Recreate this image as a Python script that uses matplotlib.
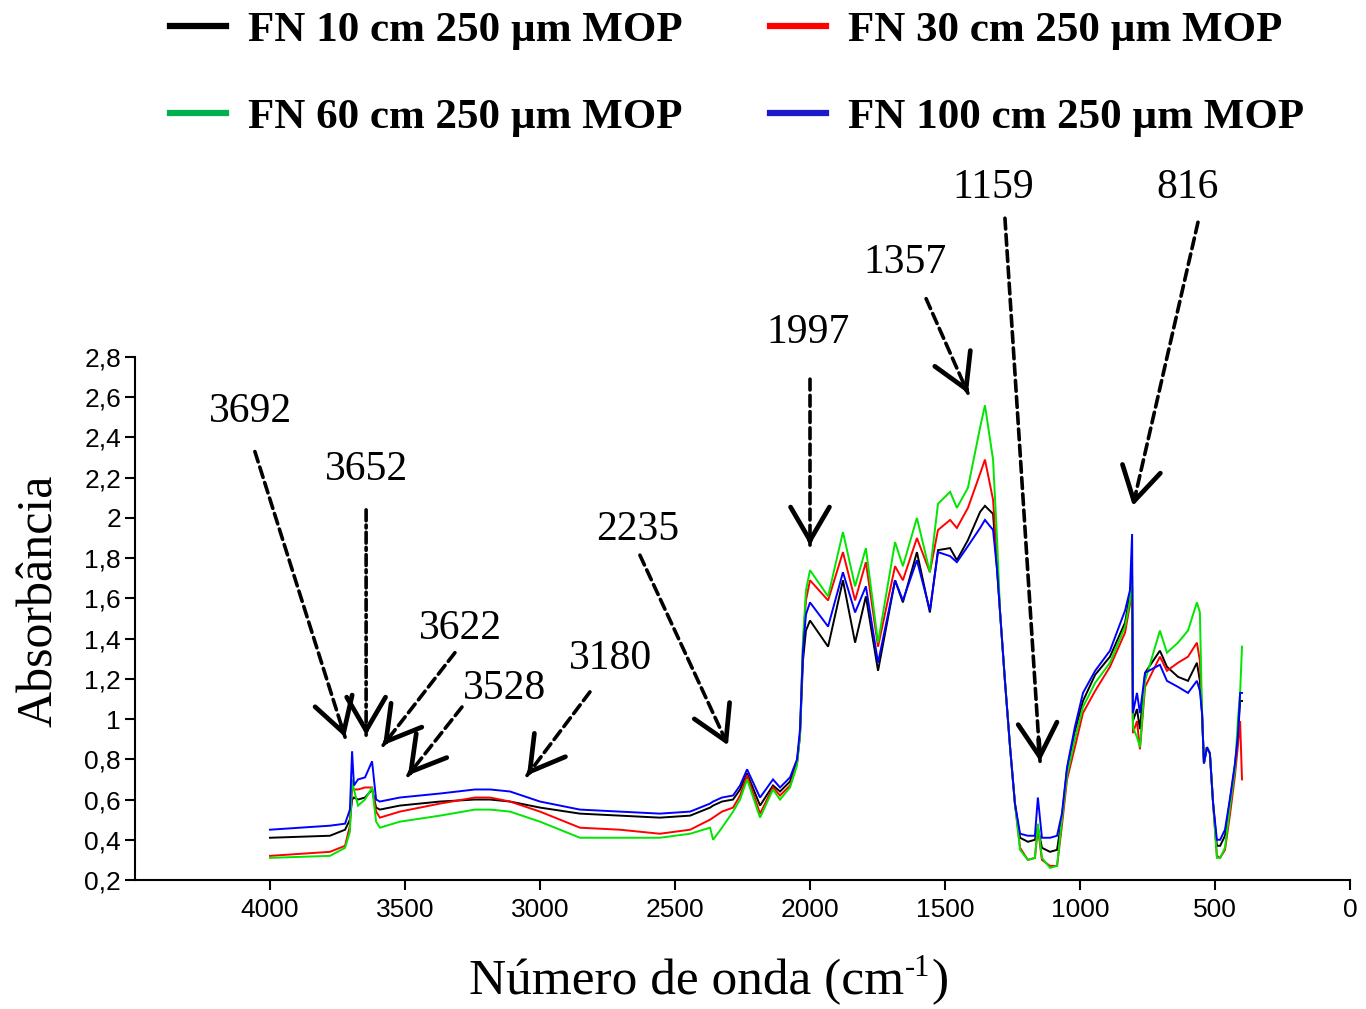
import matplotlib
matplotlib.use("Agg")
import matplotlib.pyplot as plt
from matplotlib.lines import Line2D
from matplotlib.ticker import FuncFormatter, FixedLocator, MultipleLocator

# ---------------- data ----------------
wavenumber = [4000, 3778, 3722, 3704, 3696, 3689, 3674, 3648, 3622, 3607, 3593, 3519, 3370, 3241,
              3185, 3111, 3000, 2852, 2704, 2556, 2444, 2370, 2359, 2326, 2285, 2259, 2233, 2185,
              2137, 2111, 2074, 2048, 2037, 2026, 2015, 2000, 1933, 1878, 1833, 1793, 1748, 1685,
              1656, 1604, 1556, 1526, 1481, 1456, 1415, 1370, 1352, 1322, 1307, 1296, 1278, 1259,
              1241, 1222, 1193, 1167, 1156, 1141, 1111, 1085, 1067, 1048, 1019, 989, 944, 889,
              833, 815, 807, 804, 789, 778, 759, 704, 678, 637, 600, 567, 556, 548, 541, 530,
              519, 507, 493, 481, 463, 444, 426, 415, 407, 400]

fn10 = [0.41, 0.42, 0.45, 0.50, 0.60, 0.61, 0.60, 0.61, 0.65, 0.56, 0.55, 0.57, 0.59, 0.60,
        0.60, 0.59, 0.56, 0.53, 0.52, 0.51, 0.52, 0.56, 0.57, 0.59, 0.60, 0.65, 0.73, 0.57,
        0.67, 0.64, 0.69, 0.79, 0.92, 1.29, 1.44, 1.49, 1.36, 1.69, 1.38, 1.61, 1.24, 1.69,
        1.58, 1.83, 1.53, 1.84, 1.85, 1.79, 1.89, 2.03, 2.06, 2.02, 1.74, 1.53, 1.19, 0.86,
        0.58, 0.41, 0.39, 0.40, 0.46, 0.36, 0.34, 0.35, 0.51, 0.75, 0.94, 1.09, 1.22, 1.31,
        1.48, 1.62, 1.71, 0.99, 1.05, 0.95, 1.23, 1.34, 1.26, 1.21, 1.19, 1.28, 1.19, 1.03,
        0.78, 0.86, 0.83, 0.58, 0.37, 0.37, 0.42, 0.60, 0.77, 0.91, 1.09, 1.09]

fn30 = [0.32, 0.34, 0.37, 0.47, 0.65, 0.65, 0.65, 0.66, 0.66, 0.54, 0.51, 0.54, 0.58, 0.61,
        0.61, 0.59, 0.54, 0.46, 0.45, 0.43, 0.45, 0.50, 0.51, 0.54, 0.56, 0.62, 0.72, 0.53,
        0.66, 0.62, 0.67, 0.78, 0.92, 1.37, 1.59, 1.69, 1.59, 1.83, 1.59, 1.78, 1.36, 1.76,
        1.69, 1.90, 1.73, 1.94, 1.99, 1.95, 2.05, 2.22, 2.29, 2.09, 1.79, 1.53, 1.19, 0.86,
        0.58, 0.36, 0.30, 0.31, 0.46, 0.30, 0.27, 0.27, 0.47, 0.70, 0.86, 1.03, 1.14, 1.26,
        1.43, 1.57, 1.66, 0.93, 0.99, 0.85, 1.16, 1.31, 1.24, 1.28, 1.31, 1.38, 1.29, 1.03,
        0.78, 0.86, 0.83, 0.58, 0.32, 0.31, 0.35, 0.53, 0.72, 0.87, 0.99, 0.70]

fn60 = [0.31, 0.32, 0.36, 0.44, 0.70, 0.65, 0.57, 0.60, 0.66, 0.49, 0.46, 0.49, 0.52, 0.55,
        0.55, 0.54, 0.49, 0.41, 0.41, 0.41, 0.43, 0.46, 0.40, 0.46, 0.54, 0.60, 0.70, 0.51,
        0.65, 0.60, 0.66, 0.77, 0.92, 1.39, 1.64, 1.74, 1.61, 1.93, 1.66, 1.85, 1.38, 1.88,
        1.76, 2.00, 1.73, 2.07, 2.13, 2.05, 2.15, 2.45, 2.56, 2.29, 1.89, 1.53, 1.19, 0.86,
        0.58, 0.35, 0.30, 0.31, 0.48, 0.31, 0.26, 0.27, 0.50, 0.72, 0.90, 1.06, 1.18, 1.28,
        1.46, 1.59, 1.74, 0.96, 0.91, 0.86, 1.19, 1.44, 1.33, 1.38, 1.44, 1.58, 1.53, 1.03,
        0.78, 0.86, 0.83, 0.58, 0.31, 0.31, 0.36, 0.57, 0.75, 1.00, 1.13, 1.36]

fn100 = [0.45, 0.47, 0.48, 0.55, 0.84, 0.67, 0.70, 0.71, 0.79, 0.60, 0.59, 0.61, 0.63, 0.65,
         0.65, 0.64, 0.59, 0.55, 0.54, 0.53, 0.54, 0.58, 0.59, 0.61, 0.62, 0.67, 0.75, 0.61,
         0.70, 0.66, 0.71, 0.80, 0.95, 1.34, 1.52, 1.58, 1.46, 1.73, 1.53, 1.66, 1.28, 1.69,
         1.59, 1.79, 1.54, 1.83, 1.81, 1.78, 1.86, 1.95, 1.99, 1.94, 1.74, 1.53, 1.19, 0.86,
         0.58, 0.43, 0.42, 0.42, 0.61, 0.41, 0.41, 0.42, 0.53, 0.76, 0.96, 1.13, 1.24, 1.34,
         1.54, 1.64, 1.92, 1.03, 1.13, 1.03, 1.23, 1.27, 1.19, 1.16, 1.13, 1.19, 1.14, 1.03,
         0.78, 0.86, 0.83, 0.58, 0.40, 0.40, 0.45, 0.61, 0.78, 0.92, 1.13, 1.13]

series_labels = ["FN 10 cm 250 µm MOP", "FN 30 cm 250 µm MOP",
                 "FN 60 cm 250 µm MOP", "FN 100 cm 250 µm MOP"]

x_ticks = [4000, 3500, 3000, 2500, 2000, 1500, 1000, 500, 0]

# band annotations: label, tip (wavenumber, absorbance), tail, text position
peak_labels = ["3692", "3652", "3622", "3528", "3180", "2235", "1997", "1357", "1159", "816"]
peak_tips = [(3722, 0.91), (3644, 0.92), (3581, 0.87), (3489, 0.72), (3048, 0.72),
             (2304, 0.87), (2000, 1.865), (1415, 2.62), (1148, 0.79), (804, 2.06)]
peak_tails = [(4056, 2.33), (3644, 2.04), (3315, 1.33), (3289, 1.06), (2815, 1.135),
              (2630, 1.815), (2000, 2.69), (1570, 3.09), (1278, 3.49), (563, 3.47)]
peak_text = [(4074, 2.53), (3641, 2.24), (3296, 1.45), (3130, 1.15), (2737, 1.30),
             (2637, 1.94), (2007, 2.92), (1648, 3.27), (1322, 3.64), (600, 3.64)]

line_colors = ["#000000", "#ff0000", "#00e600", "#0000ff"]
legend_colors = ["#000000", "#ff0000", "#00b050", "#1a1acc"]

# ---------------- figure ----------------
W, H = 1366, 1009
fig = plt.figure(figsize=(W / 100, H / 100), dpi=100)
ax = fig.add_axes([135 / W, 1 - 880 / H, (1350 - 135) / W, (880 - 357) / H])

for ys, c in zip([fn10, fn30, fn60, fn100], line_colors):
    ax.plot(wavenumber, ys, color=c, lw=1.4, solid_joinstyle="miter")

ax.set_xlim(4500, 0)
ax.set_ylim(0.2, 2.8)
ax.xaxis.set_major_locator(FixedLocator(x_ticks))
ax.yaxis.set_major_locator(MultipleLocator(0.2))
ax.yaxis.set_major_formatter(FuncFormatter(lambda v, p: ("%g" % round(v, 2)).replace(".", ",")))
ax.xaxis.set_major_formatter(FuncFormatter(lambda v, p: "%d" % round(v)))

for s in ["top", "right"]:
    ax.spines[s].set_visible(False)
for s in ["left", "bottom"]:
    ax.spines[s].set_linewidth(1.5)
ax.tick_params(axis="both", direction="out", width=1.5, length=7,
               labelsize=19, colors="black")
ax.tick_params(axis="x", pad=6)
ax.tick_params(axis="y", pad=3)
for lab in ax.get_xticklabels() + ax.get_yticklabels():
    lab.set_family("Liberation Sans")

# annotations
serif = "Liberation Serif"
for lab, tip, tail, tpos in zip(peak_labels, peak_tips, peak_tails, peak_text):
    ls = (0, (3, 1.5)) if lab != "3652" else (0, (3, 1.2, 0.8, 1.2))
    ax.annotate("", xy=tip, xytext=tail, annotation_clip=False,
                arrowprops=dict(arrowstyle="-", lw=2.6, linestyle=ls, color="black",
                                shrinkA=0, shrinkB=0))
    hx = tip[0] + 0.04 * (tail[0] - tip[0])
    hy = tip[1] + 0.04 * (tail[1] - tip[1])
    ax.annotate("", xy=tip, xytext=(hx, hy), annotation_clip=False,
                arrowprops=dict(arrowstyle="->,head_length=1.2,head_width=0.7",
                                lw=3.4, color="black", mutation_scale=20,
                                shrinkA=0, shrinkB=0))
    ax.text(tpos[0], tpos[1], lab, fontsize=30, family=serif, ha="center", va="center",
            clip_on=False)

# axis labels
fig.text(40 / W, 1 - 601 / H, "Absorbância", rotation=90, fontsize=36, family=serif,
         ha="center", va="center")

# x label built from pieces so the superscript uses a plain hyphen
renderer = fig.canvas.get_renderer()
ylab = 1 - 982 / H
xl_main = fig.text(0, ylab, "Número de onda (cm", fontsize=37, family=serif,
                   ha="left", va="center")
w_main = xl_main.get_window_extent(renderer).width
xl_sup = fig.text(0, ylab, "-1", fontsize=22, family=serif, ha="left", va="center")
w_sup = xl_sup.get_window_extent(renderer).width
xl_end = fig.text(0, ylab, ")", fontsize=37, family=serif, ha="left", va="center")
w_end = xl_end.get_window_extent(renderer).width
total = w_main + w_sup + w_end
x0 = 708 - total / 2
xl_main.set_x(x0 / W)
xl_sup.set_x((x0 + w_main + 1) / W)
xl_sup.set_y(1 - 968 / H)
xl_end.set_x((x0 + w_main + w_sup + 2) / W)

# legend (row-wise order: 10, 30 / 60, 100)
handles = [Line2D([], [], color=c, lw=4.5) for c in legend_colors]
order = [0, 2, 1, 3]
fig.legend([handles[i] for i in order], [series_labels[i] for i in order],
           loc="upper left", bbox_to_anchor=(170 / W, 1 - 11 / H),
           ncol=2, frameon=False, borderpad=0, borderaxespad=0,
           prop={"family": serif, "weight": "bold", "size": 31},
           handlelength=1.3, handletextpad=0.5, columnspacing=2.05, labelspacing=1.1)

fig.savefig("out.png", dpi=100)
